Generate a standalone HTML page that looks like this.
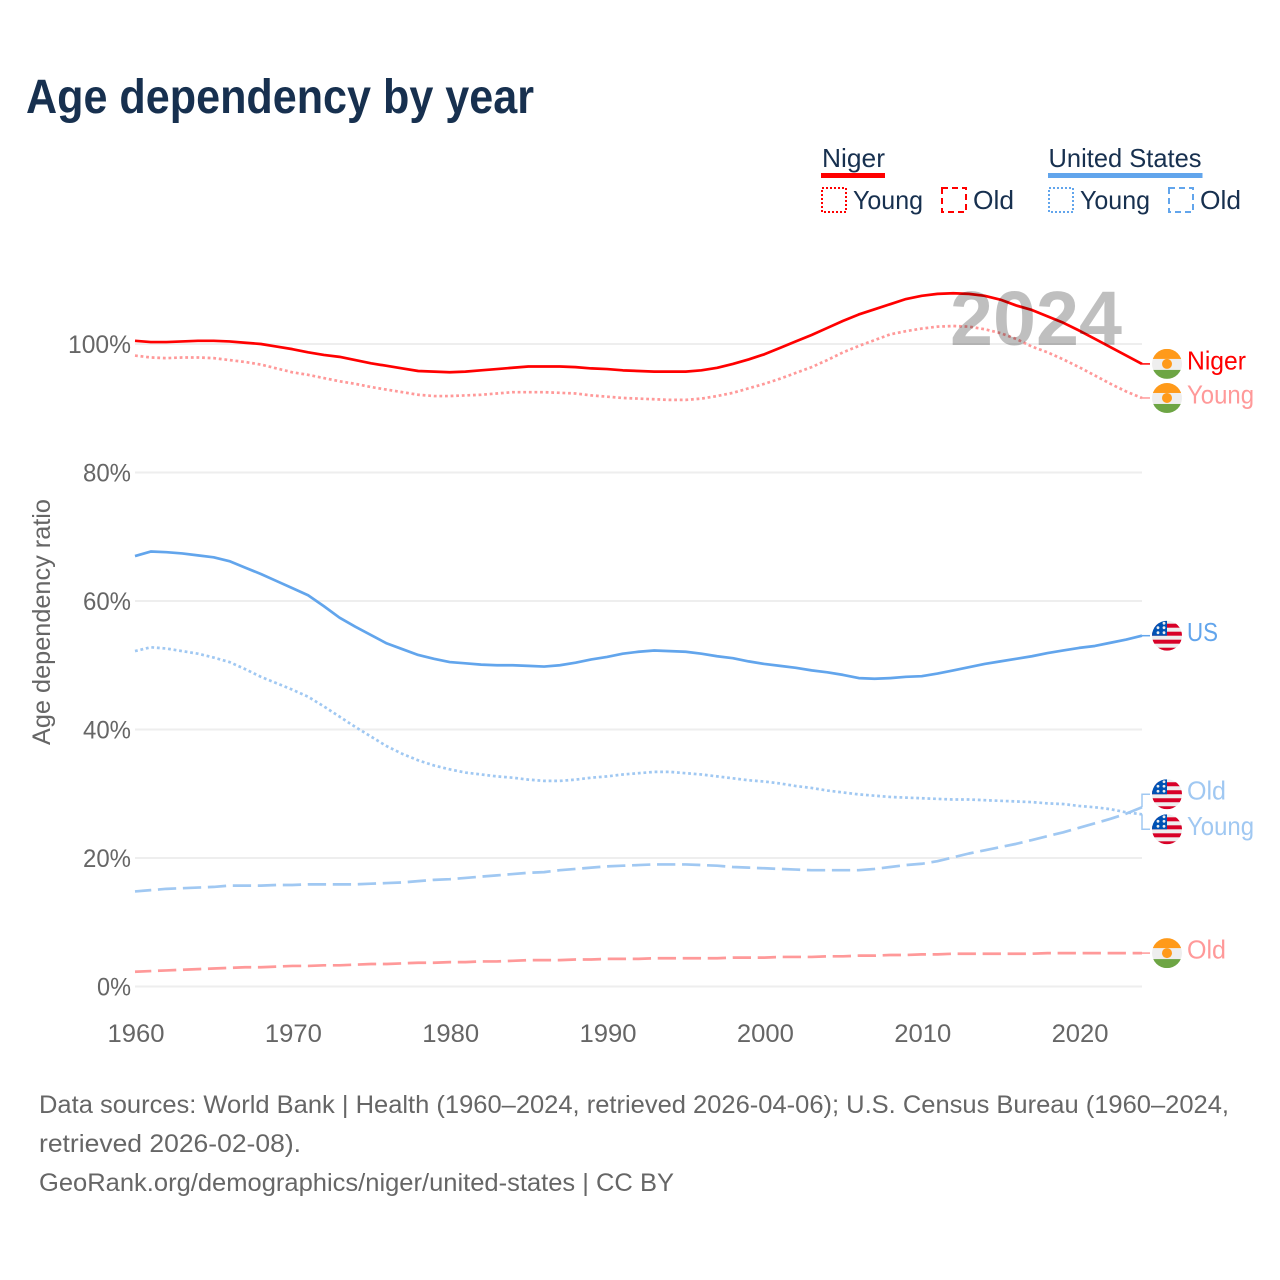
<!DOCTYPE html>
<html lang="en">
<head>
<meta charset="utf-8">
<title>Age dependency by year</title>
<style>
html,body{margin:0;padding:0;background:#fff;}
svg{display:block;font-family:"Liberation Sans",sans-serif;}
</style>
</head>
<body>
<svg id="chart" xmlns="http://www.w3.org/2000/svg" width="1280" height="1280" viewBox="0 0 1280 1280">
  <defs>
    <clipPath id="flag-clip"><circle cx="0" cy="0" r="15"/></clipPath>
    <g id="flag-niger" clip-path="url(#flag-clip)">
      <rect x="-15" y="-15" width="30" height="30" fill="#eeeeee"/>
      <rect x="-15" y="-15" width="30" height="10" fill="#ff9a1a"/>
      <rect x="-15" y="6" width="30" height="9" fill="#6da544"/>
      <circle cx="0" cy="0" r="5" fill="#ff9a1a"/>
    </g>
    <g id="flag-us" clip-path="url(#flag-clip)">
      <rect x="-15" y="-15" width="30" height="30" fill="#eeeeee"/>
      <rect x="-15" y="-12" width="30" height="4" fill="#d80027"/>
      <rect x="-15" y="-4" width="30" height="4" fill="#d80027"/>
      <rect x="-15" y="4" width="30" height="4" fill="#d80027"/>
      <rect x="-15" y="12" width="30" height="3" fill="#d80027"/>
      <rect x="-15" y="-15" width="15" height="15" fill="#0052b4"/>
      <circle cx="-9" cy="-3" r="1.4" fill="#eee"/><circle cx="-3" cy="-3" r="1.4" fill="#eee"/>
      <circle cx="-9" cy="-8" r="1.4" fill="#eee"/><circle cx="-3" cy="-8" r="1.4" fill="#eee"/>
      <circle cx="-3" cy="-12.500" r="1.4" fill="#eee"/>
    </g>
  </defs>

  <text x="26" y="113" font-size="48" font-weight="700" fill="#17304f" textLength="508" lengthAdjust="spacingAndGlyphs">Age dependency by year</text>

  <g>
    <g>
      <text x="822" y="167" font-size="26" fill="#17304f" textLength="63" lengthAdjust="spacingAndGlyphs">Niger</text>
      <rect x="821" y="173" width="64" height="5" fill="#ff0000"/>
      <rect x="822" y="188" width="24" height="24" fill="none" stroke="#ff0000" stroke-width="2" stroke-dasharray="2 2"/>
      <text x="853" y="209" font-size="26" fill="#17304f" textLength="70" lengthAdjust="spacingAndGlyphs">Young</text>
      <rect x="942" y="188" width="24" height="24" fill="none" stroke="#ff0000" stroke-width="2" stroke-dasharray="6 4"/>
      <text x="973" y="209" font-size="26" fill="#17304f" textLength="41" lengthAdjust="spacingAndGlyphs">Old</text>
    </g>
    <g>
      <text x="1048.500" y="167" font-size="26" fill="#17304f" textLength="153" lengthAdjust="spacingAndGlyphs">United States</text>
      <rect x="1048" y="173" width="154.500" height="5" fill="#62a5ec"/>
      <rect x="1049" y="188" width="24" height="24" fill="none" stroke="#62a5ec" stroke-width="2" stroke-dasharray="2 2"/>
      <text x="1080" y="209" font-size="26" fill="#17304f" textLength="70" lengthAdjust="spacingAndGlyphs">Young</text>
      <rect x="1169" y="188" width="24" height="24" fill="none" stroke="#62a5ec" stroke-width="2" stroke-dasharray="6 4"/>
      <text x="1200" y="209" font-size="26" fill="#17304f" textLength="41" lengthAdjust="spacingAndGlyphs">Old</text>
    </g>
  </g>

  <text transform="translate(50,745) rotate(-90)" x="0" y="0" font-size="25" fill="#666666" textLength="246" lengthAdjust="spacingAndGlyphs">Age dependency ratio</text>

  <g id="grid"></g>
  <g id="y-ticks"></g>
  <g id="x-ticks"></g>
  <g id="series"></g>
  <g id="end-labels"></g>

  <text x="950" y="345" font-size="77" font-weight="700" fill="#000000" fill-opacity="0.25" textLength="172" lengthAdjust="spacingAndGlyphs">2024</text>

  <g font-size="25" fill="#666666">
    <text x="39" y="1113" textLength="1190" lengthAdjust="spacingAndGlyphs">Data sources: World Bank | Health (1960–2024, retrieved 2026-04-06); U.S. Census Bureau (1960–2024,</text>
    <text x="39" y="1152" textLength="262" lengthAdjust="spacingAndGlyphs">retrieved 2026-02-08).</text>
    <text x="39" y="1191" textLength="635" lengthAdjust="spacingAndGlyphs">GeoRank.org/demographics/niger/united-states | CC BY</text>
  </g>
</svg>
<script>
const startYear = 1960;
const endYear = 2024;
const yTickValues = [0, 20, 40, 60, 80, 100];
const xTickValues = [1960, 1970, 1980, 1990, 2000, 2010, 2020];

const nigerTotal = [100.5,100.3,100.3,100.4,100.5,100.5,100.4,100.2,100.0,99.6,99.2,98.7,98.3,98.0,97.5,97.0,96.6,96.2,95.8,95.7,95.6,95.7,95.9,96.1,96.3,96.5,96.5,96.5,96.4,96.2,96.1,95.9,95.8,95.7,95.7,95.7,95.9,96.3,96.9,97.6,98.4,99.4,100.4,101.4,102.5,103.6,104.6,105.4,106.2,107.0,107.5,107.8,107.9,107.8,107.5,106.9,106.0,105.3,104.3,103.3,102.1,100.8,99.5,98.2,96.9];
const nigerYoung = [98.2,97.9,97.8,97.9,97.9,97.8,97.5,97.2,96.8,96.2,95.6,95.2,94.7,94.2,93.8,93.3,92.9,92.5,92.1,91.9,91.9,92.0,92.1,92.3,92.5,92.5,92.5,92.4,92.3,92.0,91.8,91.6,91.5,91.4,91.3,91.3,91.5,91.9,92.4,93.1,93.8,94.6,95.5,96.4,97.5,98.7,99.7,100.6,101.5,102.0,102.4,102.7,102.8,102.7,102.3,101.7,100.8,99.6,98.7,97.6,96.4,95.1,93.8,92.6,91.6];
const nigerOld = [2.3,2.4,2.5,2.6,2.7,2.8,2.9,3.0,3.0,3.1,3.2,3.2,3.3,3.3,3.4,3.5,3.5,3.6,3.7,3.7,3.8,3.8,3.9,3.9,4.0,4.1,4.1,4.1,4.2,4.2,4.3,4.3,4.3,4.4,4.4,4.4,4.4,4.4,4.5,4.5,4.5,4.6,4.6,4.6,4.7,4.7,4.8,4.8,4.9,4.9,5.0,5.0,5.1,5.1,5.1,5.1,5.1,5.1,5.2,5.2,5.2,5.2,5.2,5.2,5.2];
const usTotal = [67.0,67.7,67.6,67.4,67.1,66.8,66.2,65.2,64.2,63.1,62.0,60.9,59.2,57.4,56.0,54.7,53.4,52.5,51.6,51.0,50.5,50.3,50.1,50.0,50.0,49.9,49.8,50.0,50.4,50.9,51.3,51.8,52.1,52.3,52.2,52.1,51.8,51.4,51.1,50.6,50.2,49.9,49.6,49.2,48.9,48.5,48.0,47.9,48.0,48.2,48.3,48.7,49.2,49.7,50.2,50.6,51.0,51.4,51.9,52.3,52.7,53.0,53.5,54.0,54.6];
const usYoung = [52.2,52.8,52.6,52.2,51.8,51.2,50.5,49.4,48.2,47.2,46.2,45.1,43.6,42.0,40.4,38.9,37.4,36.2,35.2,34.4,33.8,33.3,33.0,32.7,32.5,32.2,32.0,32.0,32.2,32.5,32.7,33.0,33.2,33.4,33.4,33.2,33.0,32.7,32.4,32.1,31.9,31.6,31.2,30.9,30.5,30.2,29.9,29.7,29.5,29.4,29.3,29.2,29.1,29.1,29.0,28.9,28.8,28.7,28.5,28.4,28.1,27.9,27.6,27.1,26.8];
const usOld = [14.8,15.0,15.2,15.3,15.4,15.5,15.7,15.7,15.7,15.8,15.8,15.9,15.9,15.9,15.9,16.0,16.1,16.2,16.4,16.6,16.7,16.9,17.1,17.3,17.5,17.7,17.8,18.1,18.3,18.5,18.7,18.8,18.9,19.0,19.0,19.0,18.9,18.8,18.6,18.5,18.4,18.3,18.2,18.1,18.1,18.1,18.1,18.3,18.6,18.9,19.1,19.5,20.1,20.7,21.2,21.7,22.2,22.8,23.4,24.0,24.7,25.4,26.1,26.9,27.9];

const NS = 'http://www.w3.org/2000/svg';
const plotLeft = 135, plotRight = 1142, yZero = 986.5, yHundred = 344;
function xScale(year) { return plotLeft + (year - startYear) * (plotRight - plotLeft) / (endYear - startYear); }
function yScale(v) { return yZero + v * (yHundred - yZero) / 100; }
function make(tag, attrs, parent) {
  const el = document.createElementNS(NS, tag);
  for (const k in attrs) el.setAttribute(k, attrs[k]);
  parent.appendChild(el);
  return el;
}
const gridG = document.getElementById('grid');
const yG = document.getElementById('y-ticks');
const xG = document.getElementById('x-ticks');
const seriesG = document.getElementById('series');
const labelsG = document.getElementById('end-labels');

yTickValues.forEach(function (v) {
  const line = make('line', {x1: plotLeft, x2: plotRight, y1: yScale(v), y2: yScale(v), stroke: '#eeeeee', 'stroke-width': 2}, gridG);
  
  
  const t = make('text', {x: 131, y: yScale(v) + 9, 'font-size': 25, fill: '#666666', 'text-anchor': 'end', textLength: v === 100 ? 63 : (v === 0 ? 34 : 48), lengthAdjust: 'spacingAndGlyphs'}, yG);
  
  
  t.textContent = v + '%';
});

xTickValues.forEach(function (yr) {
  const t = make('text', {x: xScale(yr) + 1, y: 1042, 'font-size': 25, fill: '#666666', 'text-anchor': 'middle', textLength: 57, lengthAdjust: 'spacingAndGlyphs'}, xG);
  
  
  t.textContent = String(yr);
});

function drawSeries(name, values, color, dash, offset) {
  let d = '';
  values.forEach(function (v, i) {
    d += (i ? 'L' : 'M') + xScale(startYear + i).toFixed(2) + ' ' + yScale(v).toFixed(2);
  });
  const attrs = {d: d, fill: 'none', stroke: color, 'stroke-width': 2.7, 'stroke-linejoin': 'round'};
  if (dash) attrs['stroke-dasharray'] = dash;
  if (offset) attrs['stroke-dashoffset'] = offset;
  const p = make('path', attrs, seriesG);
  
  
}
const lightRed = '#ff9999', lightBlue = '#a0c8f2';
drawSeries('niger-old', nigerOld, lightRed, '18.300 6.700', 2);
drawSeries('us-old', usOld, lightBlue, '18.300 6.700', 2);
drawSeries('us-young', usYoung, lightBlue, '2.800 2.800', 0);
drawSeries('niger-young', nigerYoung, lightRed, '2.800 2.800', 0);
drawSeries('us-total', usTotal, '#62a5ec', null, 0);
drawSeries('niger-total', nigerTotal, '#ff0000', null, 0);

function endLabel(name, text, flag, lastValue, offset, color, width, connColor) {
  const lineY = yScale(lastValue);
  const cy = lineY + offset;
  const conn = make('path', {d: 'M' + plotRight + ' ' + lineY + 'L' + plotRight + ' ' + cy + 'L1150 ' + cy, fill: 'none', stroke: connColor, 'stroke-width': 1.5}, labelsG);
  
  
  const f = make('use', {href: '#flag-' + flag, x: 1167, y: cy}, labelsG);
  
  
  const t = make('text', {x: 1187, y: cy + 5.5, 'font-size': 26, fill: color, textLength: width, lengthAdjust: 'spacingAndGlyphs'}, labelsG);
  
  
  t.textContent = text;
}
endLabel('niger-total', 'Niger', 'niger', nigerTotal[nigerTotal.length - 1], 0, '#ff0000', 59, '#ff0000');
endLabel('niger-young', 'Young', 'niger', nigerYoung[nigerYoung.length - 1], 0, lightRed, 67, lightRed);
endLabel('niger-old', 'Old', 'niger', nigerOld[nigerOld.length - 1], 0, lightRed, 39, lightRed);
endLabel('us-total', 'US', 'us', usTotal[usTotal.length - 1], 0, '#62a5ec', 31, '#62a5ec');
endLabel('us-old', 'Old', 'us', usOld[usOld.length - 1], -13, lightBlue, 39, lightBlue);
endLabel('us-young', 'Young', 'us', usYoung[usYoung.length - 1], 15, lightBlue, 67, lightBlue);
</script>
</body>
</html>
